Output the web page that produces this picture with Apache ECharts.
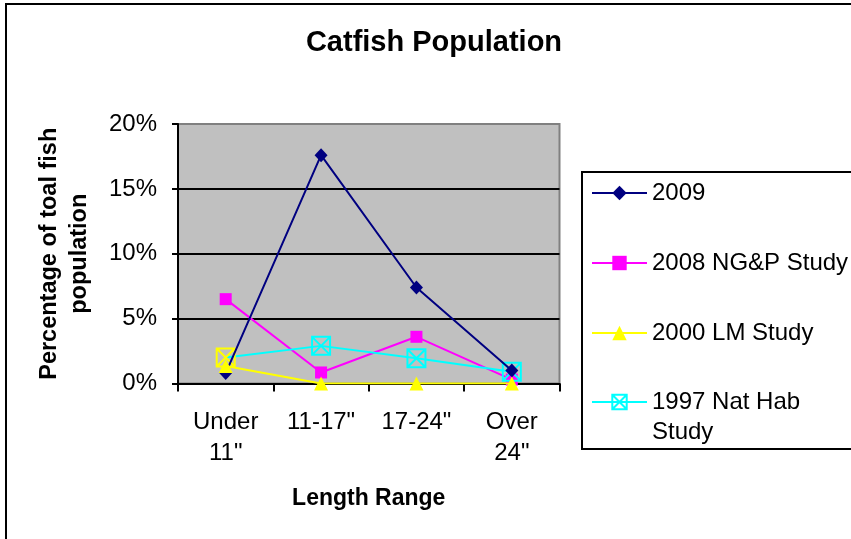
<!DOCTYPE html>
<html>
<head>
<meta charset="utf-8">
<script src="https://cdn.jsdelivr.net/npm/echarts@6/dist/echarts.min.js"></script>
<style>html,body{margin:0;padding:0;background:#fff}#c{width:851px;height:539px}</style>
</head>
<body>
<div id="c"></div>
<script>
const categories = ['Under\n11"', '11-17"', '17-24"', 'Over\n24"'];
const seriesNames = ['2009', '2008 NG&P Study', '2000 LM Study', '1997 Nat Hab Study'];
const v2009 = [0.8, 17.6, 7.4, 1.0];
const v2008 = [6.5, 0.85, 3.6, 0.3];
const v2000 = [1.35, 0, 0, 0];
const v1997 = [2.0, 2.9, 1.95, 0.9];
const yTicks = [0, 5, 10, 15, 20];

const FONT = "'Liberation Sans', Arial, sans-serif";
const chart = echarts.init(document.getElementById('c'), null, {renderer: 'canvas'});
const boxX = 'path://M0,0L20,0L20,20L0,20Z M0,0L20,20 M20,0L0,20';

const legendText = {fontFamily: FONT, fontSize: 24, color: '#000', lineHeight: 30};

const option = {
  animation: false,
  backgroundColor: '#ffffff',
  title: {
    text: 'Catfish Population',
    left: 434, top: 28, textAlign: 'center', padding: 0,
    textStyle: {fontFamily: FONT, fontSize: 29, fontWeight: 'bold', color: '#000'}
  },
  graphic: [
    {type: 'rect', shape: {x: 6, y: 4, width: 1000, height: 1000}, style: {fill: 'none', stroke: '#000', lineWidth: 2}, z: 100},
    {type: 'rect', shape: {x: 582, y: 172, width: 400, height: 277}, style: {fill: 'none', stroke: '#000', lineWidth: 2}, z: 100}
  ],
  legend: [
    {
      data: seriesNames.slice(0, 3),
      orient: 'vertical', left: 591, top: 178, padding: 0,
      itemWidth: 55, itemHeight: 18, itemGap: 40,
      lineStyle: {width: 2},
      textStyle: legendText
    },
    {
      data: [seriesNames[3]],
      orient: 'vertical', left: 591, top: 357, padding: 0,
      itemWidth: 55, itemHeight: 18,
      lineStyle: {width: 2},
      formatter: () => ' \n1997 Nat Hab\nStudy',
      textStyle: legendText
    }
  ],
  grid: {
    left: 178, right: 291.5, top: 124, bottom: 155.5,
    show: true, backgroundColor: '#C0C0C0', borderColor: '#808080', borderWidth: 2
  },
  xAxis: {
    type: 'category', data: categories, boundaryGap: true,
    name: 'Length Range', nameLocation: 'middle', nameGap: 104,
    nameTextStyle: {fontFamily: FONT, fontSize: 23, fontWeight: 'bold', color: '#000'},
    axisLine: {lineStyle: {color: '#000', width: 2}},
    axisTick: {show: true, length: 8, lineStyle: {color: '#000', width: 2}},
    axisLabel: {fontFamily: FONT, fontSize: 24, color: '#000', lineHeight: 31, margin: 23, interval: 0}
  },
  yAxis: {
    type: 'value', min: yTicks[0], max: yTicks[yTicks.length - 1], interval: 5,
    name: 'Percentage of toal fish\npopulation', nameLocation: 'middle', nameGap: 83, nameRotate: 90,
    nameTextStyle: {fontFamily: FONT, fontSize: 23.5, fontWeight: 'bold', color: '#000', lineHeight: 30},
    axisLine: {show: true, lineStyle: {color: '#000', width: 2}},
    axisTick: {show: true, length: 6, lineStyle: {color: '#000', width: 2}},
    axisLabel: {fontFamily: FONT, fontSize: 24, color: '#000', margin: 21, formatter: '{value}%'},
    splitLine: {show: true, showMaxLine: false, lineStyle: {color: '#000', width: 2}}
  },
  series: [
    {
      name: seriesNames[1], type: 'line', data: v2008, z: 2,
      symbol: 'rect', symbolSize: 12,
      lineStyle: {color: '#FF00FF', width: 2},
      itemStyle: {color: '#FF00FF'}
    },
    {
      name: seriesNames[3], type: 'line', z: 3,
      data: v1997.map((v, i) => i === 0 ? {value: v, itemStyle: {borderColor: '#FFFF00'}} : v),
      symbol: boxX, symbolSize: 18,
      lineStyle: {color: '#00FFFF', width: 2},
      itemStyle: {color: 'rgba(0,0,0,0)', borderColor: '#00FFFF', borderWidth: 2}
    },
    {
      name: seriesNames[0], type: 'line', data: v2009, z: 4,
      symbol: 'diamond', symbolSize: [13, 14],
      lineStyle: {color: '#000080', width: 2},
      itemStyle: {color: '#000080'}
    },
    {
      name: seriesNames[2], type: 'line', data: v2000, z: 5,
      symbol: 'triangle', symbolSize: 14,
      lineStyle: {color: '#FFFF00', width: 2},
      itemStyle: {color: '#FFFF00'}
    }
  ]
};
chart.setOption(option);
</script>
</body>
</html>
